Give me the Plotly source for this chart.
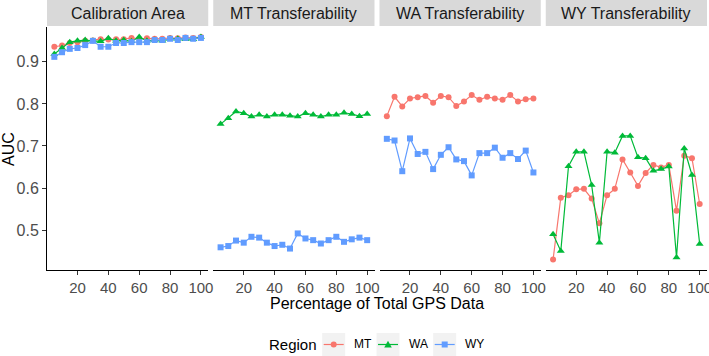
import plotly.graph_objects as go
from plotly.subplots import make_subplots

pct = [5, 10, 15, 20, 25, 30, 35, 40, 45, 50, 55, 60, 65, 70, 75, 80, 85, 90, 95, 100]
panels = ["Calibration Area", "MT Transferability", "WA Transferability", "WY Transferability"]
regions = ["MT", "WA", "WY"]

# Calibration Area
cal_mt = [0.936, 0.939, 0.945, 0.947, 0.950, 0.951, 0.954, 0.953, 0.954, 0.954, 0.957, 0.955, 0.956, 0.955, 0.955, 0.957, 0.956, 0.958, 0.957, 0.959]
cal_wa = [0.919, 0.933, 0.947, 0.950, 0.952, 0.950, 0.949, 0.956, 0.950, 0.952, 0.949, 0.959, 0.950, 0.952, 0.950, 0.955, 0.955, 0.954, 0.954, 0.959]
cal_wy = [0.912, 0.923, 0.931, 0.933, 0.940, 0.950, 0.936, 0.936, 0.945, 0.945, 0.947, 0.947, 0.947, 0.952, 0.952, 0.955, 0.952, 0.957, 0.955, 0.957]
# MT Transferability
mt_wa = [0.752, 0.766, 0.782, 0.778, 0.770, 0.774, 0.770, 0.774, 0.774, 0.772, 0.770, 0.778, 0.774, 0.770, 0.774, 0.774, 0.779, 0.776, 0.771, 0.776]
mt_wy = [0.459, 0.462, 0.475, 0.470, 0.484, 0.482, 0.470, 0.462, 0.465, 0.456, 0.492, 0.480, 0.476, 0.468, 0.476, 0.484, 0.472, 0.478, 0.482, 0.476]
# WA Transferability
wa_mt = [0.771, 0.817, 0.794, 0.813, 0.816, 0.819, 0.803, 0.819, 0.816, 0.795, 0.806, 0.821, 0.810, 0.817, 0.813, 0.810, 0.821, 0.806, 0.811, 0.813]
wa_wy = [0.717, 0.713, 0.640, 0.718, 0.681, 0.686, 0.645, 0.679, 0.697, 0.668, 0.664, 0.630, 0.683, 0.683, 0.696, 0.672, 0.683, 0.669, 0.689, 0.637]
# WY Transferability
wy_mt = [0.430, 0.577, 0.583, 0.597, 0.598, 0.575, 0.516, 0.583, 0.598, 0.668, 0.637, 0.605, 0.636, 0.655, 0.649, 0.655, 0.546, 0.677, 0.671, 0.562]
wy_wa = [0.490, 0.450, 0.652, 0.686, 0.686, 0.607, 0.470, 0.686, 0.684, 0.724, 0.724, 0.673, 0.671, 0.641, 0.645, 0.651, 0.435, 0.694, 0.631, 0.467]

x_ticks = [20, 40, 60, 80, 100]
y_ticks = [0.5, 0.6, 0.7, 0.8, 0.9]

style = {
    "MT": dict(color="#F8766D", symbol="circle", size=6),
    "WA": dict(color="#00BA38", symbol="triangle-up", size=7),
    "WY": dict(color="#619CFF", symbol="square", size=6),
}

panel_series = [
    [("MT", cal_mt), ("WA", cal_wa), ("WY", cal_wy)],
    [("WA", mt_wa), ("WY", mt_wy)],
    [("MT", wa_mt), ("WY", wa_wy)],
    [("MT", wy_mt), ("WA", wy_wa)],
]

FONT = "Liberation Sans, Arial, sans-serif"
L, T = 47.0, 27.0
W = 660.0
H = 243.0
gap = 5.0
pw = (W - 3 * gap) / 4
domains = [[(i * (pw + gap)) / W, (i * (pw + gap) + pw) / W] for i in range(4)]


def px(x):
    return (x - L) / W


def py(y):
    return (T + H - y) / H


fig = make_subplots(rows=1, cols=4, shared_yaxes=True, horizontal_spacing=gap / W)

for i, series in enumerate(panel_series):
    for name, vals in series:
        s = style[name]
        fig.add_trace(go.Scatter(
            x=pct, y=vals, mode="lines+markers", name=name, legendgroup=name,
            showlegend=False, cliponaxis=False,
            line=dict(color=s["color"], width=1.2),
            marker=dict(color=s["color"], symbol=s["symbol"], size=s["size"]),
        ), row=1, col=i + 1)

tickfont = dict(family=FONT, size=15, color="#4D4D4D")
for i in range(4):
    ax = "xaxis" if i == 0 else f"xaxis{i+1}"
    fig.layout[ax].update(
        domain=domains[i], range=[0.25, 104.75], tickvals=x_ticks, automargin=False,
        showgrid=False, zeroline=False, showline=True, linecolor="black", linewidth=1,
        ticks="outside", ticklen=4, tickcolor="#333333", tickfont=tickfont,
        ticklabeloverflow="allow",
    )
    ay = "yaxis" if i == 0 else f"yaxis{i+1}"
    fig.layout[ay].update(
        range=[0.405, 0.983], tickvals=y_ticks, showgrid=False, zeroline=False, automargin=False,
        showline=(i == 0), linecolor="black", linewidth=1,
        ticks="outside" if i == 0 else "", ticklen=4, tickcolor="#333333",
        tickfont=dict(family=FONT, size=16, color="#4D4D4D"),
        showticklabels=(i == 0),
    )
    # strip
    fig.add_shape(type="rect", xref="paper", yref="paper",
                  x0=domains[i][0], x1=domains[i][1], y0=1 + 1 / H, y1=1 + 27 / H,
                  fillcolor="#D9D9D9", line=dict(width=0), layer="below")
    fig.add_annotation(text=panels[i], xref="paper", yref="paper",
                       x=(domains[i][0] + domains[i][1]) / 2, y=1 + 14 / H,
                       showarrow=False, xanchor="center", yanchor="middle",
                       font=dict(family=FONT, size=16, color="#1A1A1A"))

fig.add_annotation(text="AUC", xref="paper", yref="paper", textangle=-90,
                   x=px(8), y=py(149), xanchor="center", yanchor="middle", showarrow=False,
                   font=dict(family=FONT, size=16, color="black"))

fig.add_annotation(text="Percentage of Total GPS Data", xref="paper", yref="paper",
                   x=0.5, y=py(303), xanchor="center", yanchor="middle", showarrow=False,
                   font=dict(family=FONT, size=16, color="black"))

# legend (drawn manually, ggplot style)
leg_y = 344.5
fig.add_annotation(text="Region", xref="paper", yref="paper", x=px(267), y=py(leg_y),
                   xanchor="left", yanchor="middle", showarrow=False,
                   font=dict(family=FONT, size=15, color="black"))
key_cx = [333.7, 388.0, 444.7]
half = 11.5
for name, cx in zip(regions, key_cx):
    s = style[name]
    fig.add_shape(type="rect", xref="paper", yref="paper",
                  x0=px(cx - half), x1=px(cx + half), y0=py(leg_y + half), y1=py(leg_y - half),
                  fillcolor="#F2F2F2", line=dict(width=0), layer="above")
    fig.add_shape(type="line", xref="paper", yref="paper",
                  x0=px(cx - 10), x1=px(cx + 10), y0=py(leg_y), y1=py(leg_y),
                  line=dict(color=s["color"], width=1.2), layer="above")
    if s["symbol"] == "circle":
        r = 3.0
        fig.add_shape(type="circle", xref="paper", yref="paper",
                      x0=px(cx - r), x1=px(cx + r), y0=py(leg_y + r), y1=py(leg_y - r),
                      fillcolor=s["color"], line=dict(width=0), layer="above")
    elif s["symbol"] == "square":
        r = 3.0
        fig.add_shape(type="rect", xref="paper", yref="paper",
                      x0=px(cx - r), x1=px(cx + r), y0=py(leg_y + r), y1=py(leg_y - r),
                      fillcolor=s["color"], line=dict(width=0), layer="above")
    else:
        path = (f"M {px(cx - 3.8)} {py(leg_y + 3)} L {px(cx + 3.8)} {py(leg_y + 3)} "
                f"L {px(cx)} {py(leg_y - 3.8)} Z")
        fig.add_shape(type="path", xref="paper", yref="paper", path=path,
                      fillcolor=s["color"], line=dict(width=0), layer="above")
    fig.add_annotation(text=name, xref="paper", yref="paper", x=px(cx + half + 7), y=py(leg_y),
                       xanchor="left", yanchor="middle", showarrow=False,
                       font=dict(family=FONT, size=12, color="black"))

fig.update_layout(
    width=709, height=356,
    margin=dict(l=47, r=2, t=27, b=86, autoexpand=False),
    plot_bgcolor="white", paper_bgcolor="white",
    showlegend=False,
)

fig.write_html("out.html", config={"displayModeBar": False},
               post_script="document.body.style.margin='0px';")
